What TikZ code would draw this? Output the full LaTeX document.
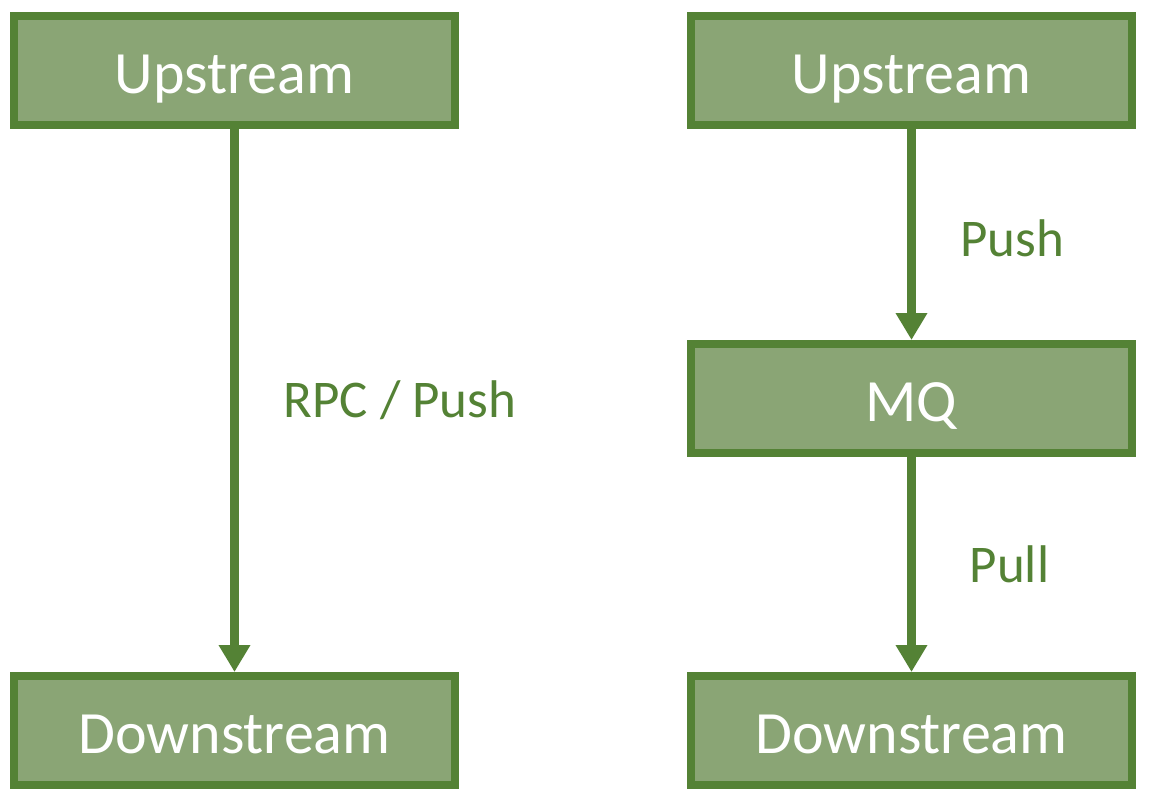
\documentclass[tikz,border=0pt]{standalone}
\usepackage{fontspec}
\setmainfont{Carlito}
\usetikzlibrary{arrows.meta}
\definecolor{edgegreen}{RGB}{84,130,53}
\definecolor{fillgreen}{RGB}{138,165,117}
\tikzset{
  box/.style={draw=edgegreen, fill=fillgreen, line width=8pt, minimum width=441pt,
    minimum height=109pt, inner sep=0pt, text=white,
    font=\fontsize{60}{60}\selectfont, text height=45pt, text depth=0pt},
  flow/.style={draw=edgegreen, line width=9pt, -{Triangle[width=30pt,length=27pt]}},
  lbl/.style={text=edgegreen, font=\fontsize{53}{53}\selectfont, inner sep=0pt,
    text height=34pt, text depth=0pt}
}
\begin{document}
\begin{tikzpicture}[x=1pt,y=-1pt]
\useasboundingbox (0,0) rectangle (1154,800);
\node[box] (lu) at (234.5,70.5) {Upstream};
\node[box] (ld) at (234.5,730.5) {Downstream};
\node[box] (ru) at (911.5,70.5) {Upstream};
\node[box] (mq) at (911.5,398.5) {MQ};
\node[box] (rd) at (911.5,730.5) {Downstream};
\draw[flow] (lu) -- (ld);
\draw[flow] (ru) -- (mq);
\draw[flow] (mq) -- (rd);
\node[lbl] (l1) at (400,400) {RPC / Push};
\node[lbl] (l2) at (1012,239) {Push};
\node[lbl] (l3) at (1009.5,565) {Pull};
\end{tikzpicture}
\end{document}
